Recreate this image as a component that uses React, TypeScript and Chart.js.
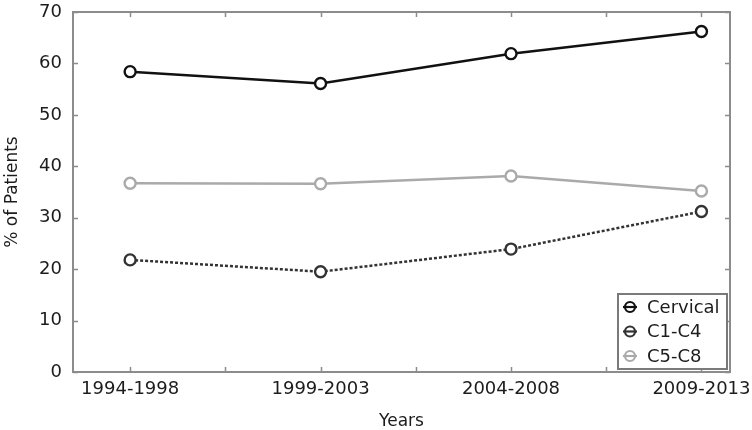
import React, { useEffect, useRef } from "react";
import { Chart, registerables } from "chart.js";

Chart.register(...registerables);

const categories = ["1994-1998", "1999-2003", "2004-2008", "2009-2013"];
const seriesNames = ["Cervical", "C1-C4", "C5-C8"];
const cervical = [58.4, 56.1, 61.9, 66.2];
const c1c4 = [21.8, 19.5, 23.9, 31.2];
const c5c8 = [36.7, 36.6, 38.1, 35.2];
const yMin = 0;
const yMax = 70;
const yStep = 10;

const FONT = "'DejaVu Sans', 'Liberation Sans', Arial, sans-serif";
const FRAME = "#8c8c8c";
const TEXT = "#1c1c1c";

const framePlugin = {
  id: "frameTicks",
  beforeDatasetsDraw(chart: any) {
    const { ctx, chartArea } = chart;
    const { left, right, top, bottom } = chartArea;
    ctx.save();
    ctx.strokeStyle = FRAME;
    ctx.lineWidth = 2;
    ctx.strokeRect(left, top, right - left, bottom - top);
    ctx.lineWidth = 1.5;
    const len = 5;
    const xs = chart.scales.x;
    xs.ticks.forEach((t: any) => {
      const px = Math.round(xs.getPixelForValue(t.value)) + 0.5;
      ctx.beginPath();
      ctx.moveTo(px, bottom);
      ctx.lineTo(px, bottom - len);
      ctx.moveTo(px, top);
      ctx.lineTo(px, top + len);
      ctx.stroke();
    });
    const ys = chart.scales.y;
    ys.ticks.forEach((t: any) => {
      const py = Math.round(ys.getPixelForValue(t.value)) + 0.5;
      ctx.beginPath();
      ctx.moveTo(left, py);
      ctx.lineTo(left + len, py);
      ctx.moveTo(right, py);
      ctx.lineTo(right - len, py);
      ctx.stroke();
    });
    ctx.restore();
  },
};

const legendPlugin = {
  id: "insideLegend",
  afterDatasetsDraw(chart: any) {
    const { ctx, chartArea } = chart;
    const ds = chart.data.datasets;
    const boxW = 109;
    const boxH = 75;
    const x0 = chartArea.right - 3 - boxW;
    const y0 = chartArea.bottom - 3 - boxH;
    ctx.save();
    ctx.fillStyle = "#ffffff";
    ctx.fillRect(x0, y0, boxW, boxH);
    ctx.strokeStyle = "#7a7a7a";
    ctx.lineWidth = 2;
    ctx.strokeRect(x0, y0, boxW, boxH);
    ctx.font = `18px ${FONT}`;
    ctx.textBaseline = "middle";
    ctx.textAlign = "left";
    ds.forEach((d: any, i: number) => {
      const cy = y0 + 13 + i * 24.5;
      const cx = x0 + 12;
      ctx.strokeStyle = d.borderColor;
      ctx.lineWidth = 2.2;
      ctx.setLineDash([]);
      ctx.beginPath();
      ctx.moveTo(cx - 7, cy);
      ctx.lineTo(cx + 7, cy);
      ctx.stroke();
      ctx.fillStyle = "#ffffff";
      ctx.beginPath();
      ctx.arc(cx, cy, 5, 0, Math.PI * 2);
      ctx.fill();
      ctx.stroke();
      ctx.beginPath();
      ctx.moveTo(cx - 5, cy);
      ctx.lineTo(cx + 5, cy);
      ctx.stroke();
      ctx.fillStyle = TEXT;
      ctx.fillText(d.label, x0 + 29, cy + 1);
    });
    ctx.restore();
  },
};

function toPoints(vals: number[]) {
  return vals.map((v, i) => ({ x: i + 1, y: v }));
}

export default function App() {
  const ref = useRef<HTMLCanvasElement | null>(null);
  useEffect(() => {
    if (!ref.current) return;
    const common = {
      pointRadius: 5.5,
      pointHoverRadius: 5.5,
      pointBorderWidth: 2.4,
      pointBackgroundColor: "#ffffff",
      borderWidth: 2.5,
      fill: false,
      tension: 0,
    };
    const chart = new Chart(ref.current, {
      type: "line",
      data: {
        datasets: [
          {
            ...common,
            label: seriesNames[0],
            data: toPoints(cervical),
            borderColor: "#111111",
            pointBorderColor: "#111111",
          },
          {
            ...common,
            label: seriesNames[1],
            data: toPoints(c1c4),
            borderColor: "#333333",
            pointBorderColor: "#333333",
            borderDash: [3, 2],
          },
          {
            ...common,
            label: seriesNames[2],
            data: toPoints(c5c8),
            borderColor: "#aaaaaa",
            pointBorderColor: "#aaaaaa",
          },
        ],
      },
      options: {
        animation: false,
        responsive: true,
        maintainAspectRatio: false,
        layout: { padding: { left: 0, top: 12, right: 22, bottom: 0 } },
        plugins: {
          legend: { display: false },
          tooltip: { enabled: false },
        },
        scales: {
          x: {
            type: "linear",
            min: 0.7,
            max: 4.15,
            grid: { display: false, drawTicks: false },
            border: { display: false },
            afterFit(scale: any) {
              scale.height = 58;
              scale.paddingLeft = 0;
              scale.paddingRight = 0;
            },
            ticks: {
              stepSize: 0.5,
              includeBounds: false,
              autoSkip: false,
              maxRotation: 0,
              padding: 7,
              color: TEXT,
              font: { family: FONT, size: 18 },
              callback: (v: any) =>
                Number.isInteger(v) ? categories[v - 1] ?? "" : "",
            },
            title: {
              display: true,
              text: "Years",
              color: TEXT,
              font: { family: FONT, size: 17 },
              padding: { top: 0, bottom: -2 },
            },
          },
          y: {
            min: yMin,
            max: yMax,
            grid: { display: false, drawTicks: false },
            border: { display: false },
            afterFit(scale: any) {
              scale.width = 73;
              scale.paddingTop = 0;
              scale.paddingBottom = 0;
            },
            ticks: {
              stepSize: yStep,
              padding: 11,
              color: TEXT,
              font: { family: FONT, size: 18 },
            },
            title: {
              display: true,
              text: "% of Patients",
              color: TEXT,
              font: { family: FONT, size: 17 },
              padding: { top: 2, bottom: 0 },
            },
          },
        },
      },
      plugins: [framePlugin, legendPlugin],
    } as any);
    return () => chart.destroy();
  }, []);
  return (
    <div
      style={{
        position: "fixed",
        left: 0,
        top: 0,
        width: 752,
        height: 430,
        background: "#ffffff",
      }}
    >
      <canvas ref={ref} />
    </div>
  );
}
